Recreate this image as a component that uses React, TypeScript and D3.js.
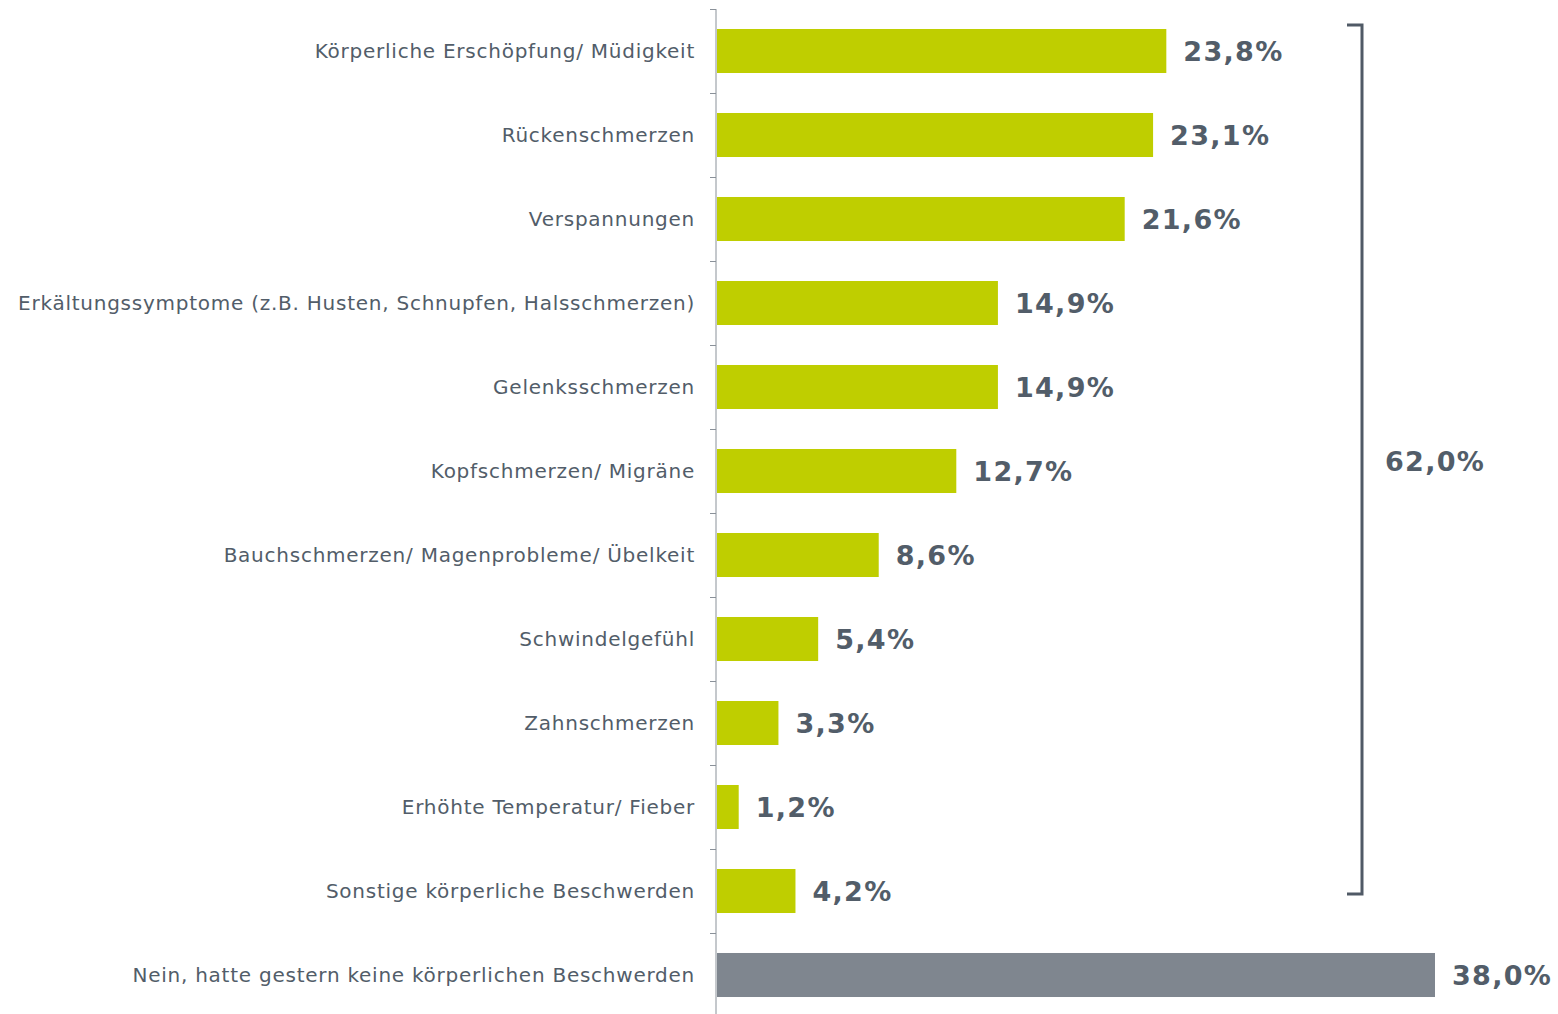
import React from "react";
import * as d3 from "d3";

const categories = [
  "Körperliche Erschöpfung/ Müdigkeit",
  "Rückenschmerzen",
  "Verspannungen",
  "Erkältungssymptome (z.B. Husten, Schnupfen, Halsschmerzen)",
  "Gelenksschmerzen",
  "Kopfschmerzen/ Migräne",
  "Bauchschmerzen/ Magenprobleme/ Übelkeit",
  "Schwindelgefühl",
  "Zahnschmerzen",
  "Erhöhte Temperatur/ Fieber",
  "Sonstige körperliche Beschwerden",
  "Nein, hatte gestern keine körperlichen Beschwerden",
];
const values = [23.8, 23.1, 21.6, 14.9, 14.9, 12.7, 8.6, 5.4, 3.3, 1.2, 4.2, 38.0];
const isNone = [false, false, false, false, false, false, false, false, false, false, false, true];
const bracketLabel = "62,0%";

const W = 1558;
const H = 1014;
const GREEN = "#bfce00";
const GREY = "#7f868f";
const TEXT = "#525d69";
const AXIS = "#8a9199";
const FONT = "'DejaVu Sans', Verdana, sans-serif";

const fmt = (v: number) => v.toFixed(1).replace(".", ",") + "%";

export default function App() {
  const x = d3.scaleLinear().domain([0, 38]).range([716, 1435]);
  const y = d3.scaleBand<string>().domain(categories).range([9, 1017]).paddingInner(0.476).paddingOuter(0.238);
  const step = y.step();
  const bw = y.bandwidth();
  const tickYs = categories.map((_, i) => 9 + i * step);

  const firstTop = y(categories[0])!;
  const lastIdx = 10;
  const bTop = firstTop - 4;
  const bBot = y(categories[lastIdx])! + bw / 2 + 3;
  const bx = 1362;

  return (
    <svg width={W} height={H} style={{ position: "absolute", left: 0, top: 0, background: "#fff" }} fontFamily={FONT}>
      {categories.map((c, i) => (
        <g key={c}>
          <rect
            x={x(0) + 1}
            y={y(c)!}
            width={x(values[i]) - x(0) - 1}
            height={bw}
            fill={isNone[i] ? GREY : GREEN}
          />
          <text
            x={695}
            y={y(c)! + bw / 2}
            dy="0.35em"
            textAnchor="end"
            fontSize={20}
            letterSpacing={0.75}
            fill={TEXT}
          >
            {c}
          </text>
          <text
            x={x(values[i]) + 17}
            y={y(c)! + bw / 2}
            dy="0.36em"
            fontSize={27}
            letterSpacing={1.3}
            fontWeight="bold"
            fill={TEXT}
          >
            {fmt(values[i])}
          </text>
        </g>
      ))}
      <line x1={716} x2={716} y1={9} y2={H} stroke={AXIS} strokeWidth={1} />
      {tickYs.map((t, i) => (
        <line key={i} x1={710} x2={716} y1={t + 0.5} y2={t + 0.5} stroke={AXIS} strokeWidth={1} />
      ))}
      <path
        d={`M${bx - 15},${bTop} H${bx} V${bBot} H${bx - 15}`}
        fill="none"
        stroke="#505a66"
        strokeWidth={3}
      />
      <text x={1385} y={(bTop + bBot) / 2 + 2} dy="0.36em" fontSize={27} letterSpacing={1.3} fontWeight="bold" fill={TEXT}>
        {bracketLabel}
      </text>
    </svg>
  );
}
